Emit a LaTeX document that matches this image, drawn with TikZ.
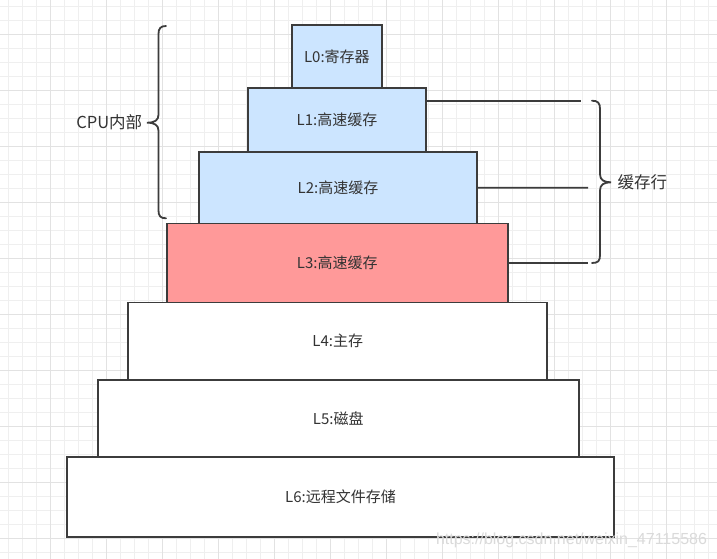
\documentclass[tikz,border=0pt]{standalone}
\usepackage{fontspec}
\usepackage{graphicx}
\setmainfont{Liberation Sans}
\newfontfamily\cjkfont{Noto Sans CJK SC}
\definecolor{gridminor}{HTML}{EFEFEF}
\definecolor{gridmajor}{HTML}{E2E2E2}
\definecolor{strokec}{HTML}{3C3C3C}
\definecolor{textc}{HTML}{333333}
\definecolor{bluefill}{HTML}{CCE5FF}
\definecolor{redfill}{HTML}{FF9999}
\definecolor{wmc}{HTML}{DADADA}
\tikzset{
  levelbox/.style={draw=strokec, line width=1.8pt, inner sep=0pt, outer sep=0pt,
    text=textc, font=\cjkfont\fontsize{15}{18}\selectfont},
  gminor/.style={draw=gridminor, line width=0.9pt},
  gmajor/.style={draw=gridmajor, line width=0.9pt},
  conn/.style={draw=strokec, line width=1.8pt},
  bracec/.style={draw=strokec, line width=1.8pt, line cap=round},
  bracelabel/.style={text=textc, font=\cjkfont\fontsize{16.5}{19}\selectfont, inner sep=0pt}
}
\begin{document}
\begin{tikzpicture}[x=1pt,y=-1pt]
\useasboundingbox (0,0) rectangle (717,559);
\fill[white] (0,0) rectangle (717,559);
% grid
\foreach \i in {0,...,50} \draw[gminor] ({8.3+14*\i},0) -- ({8.3+14*\i},559);
\foreach \j in {0,...,39} \draw[gminor] (0,{6.5+14*\j}) -- (717,{6.5+14*\j});
\foreach \i in {0,...,11} \draw[gmajor] ({50.7+56*\i},0) -- ({50.7+56*\i},559);
\foreach \j in {0,...,9} \draw[gmajor] (0,{34.5+56*\j}) -- (717,{34.5+56*\j});
% levels
\node[levelbox, fill=bluefill, minimum width=90.3pt, minimum height=62.7pt] (L0) at (336.85,56.35) {L0:寄存器};
\node[levelbox, fill=bluefill, minimum width=178.6pt, minimum height=64pt] (L1) at (337,119.7) {L1:高速缓存};
\node[levelbox, fill=bluefill, minimum width=278pt, minimum height=72.3pt] (L2) at (338,187.85) {L2:高速缓存};
\node[levelbox, fill=redfill, minimum width=341pt, minimum height=79pt] (L3) at (337.2,263) {L3:高速缓存};
\node[levelbox, fill=white, minimum width=419pt, minimum height=77.5pt] (L4) at (337.8,341.25) {L4:主存};
\node[levelbox, fill=white, minimum width=481pt, minimum height=77pt] (L5) at (338.2,418.5) {L5:磁盘};
\node[levelbox, fill=white, minimum width=547.6pt, minimum height=80.3pt] (L6) at (340.5,497.15) {L6:远程文件存储};
% connectors to the cache-line brace
\coordinate (c1) at (581,100.7);
\coordinate (c2) at (588,187.7);
\coordinate (c3) at (588,263);
\draw[conn] (L1.east |- c1) -- (c1);
\draw[conn] (L2.east) -- (c2);
\draw[conn] (L3.east) -- (c3);
% right brace
\draw[bracec] (592,100.7) .. controls (598,100.7) and (600,103) .. (600,109)
  -- (600,174.3) .. controls (600,180) and (604,182.3) .. (611,182.3)
  .. controls (604,182.3) and (600,184.6) .. (600,190.3)
  -- (600,255) .. controls (600,261) and (598,263) .. (592,263);
% left brace
\draw[bracec] (166,26) .. controls (160.5,26) and (158.5,28.5) .. (158.5,34)
  -- (158.5,114.7) .. controls (158.5,120.4) and (154.5,122.7) .. (147,122.7)
  .. controls (154.5,122.7) and (158.5,125) .. (158.5,130.7)
  -- (158.5,210.5) .. controls (158.5,216) and (160.5,218.3) .. (166,218.3);
% labels
\node[bracelabel] (cpu) at (109.3,122.7) {CPU内部};
\node[bracelabel] (line) at (642.3,182.3) {缓存行};
% watermark
\node[text=wmc, inner sep=0pt, font=\fontsize{16}{18}\selectfont] (wm) at (571.5,540) {https://blog.csdn.net/weixin\_47115586};
\end{tikzpicture}
\end{document}
